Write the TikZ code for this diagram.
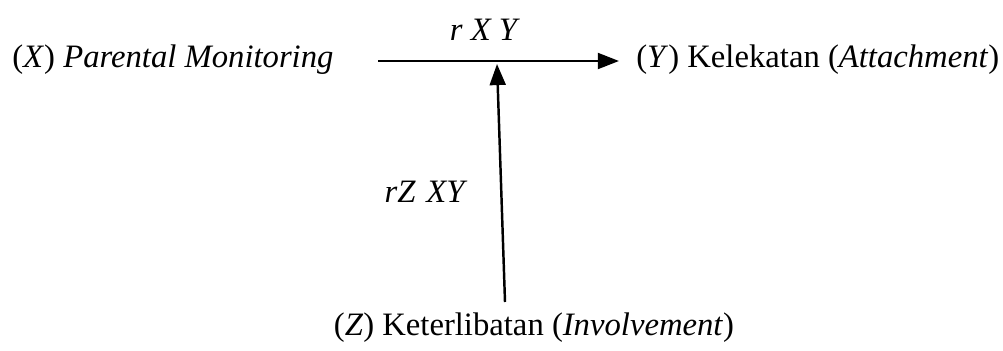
\documentclass[tikz,border=0pt]{standalone}
\usepackage{fontspec}
\setmainfont{Liberation Serif}
\usetikzlibrary{arrows.meta}
\tikzset{
  label/.style={inner sep=0pt, font=\fontsize{18.6}{22}\selectfont},
  link/.style={line width=1.4pt, -{Triangle[length=12pt,width=9pt]}}
}
\begin{document}
\begin{tikzpicture}[x=0.02cm,y=-0.02cm]
  \useasboundingbox (0,0) rectangle (1003,351);
  \node[label,anchor=west] (X) at (12,60) {(\textit{X}) \textit{Parental Monitoring}};
  \node[label,anchor=west] (Y) at (636,60) {(\textit{Y}) Kelekatan (\textit{Attachment})};
  \node[label] (Z) at (534,328) {(\textit{Z}) Keterlibatan (\textit{Involvement})};
  \coordinate (start) at (378,61);
  \coordinate (end) at (619,61);
  \coordinate (meet) at (497,64);
  \coordinate (foot) at (505,302);
  \draw[link] (start) -- (end);
  \draw[link] (foot) -- (meet);
  \node[label] (rxy) at (485,30) {\textit{r X Y}};
  \node[label] (rzxy) at (426,192) {\textit{rZ\,\,XY}};
\end{tikzpicture}
\end{document}
